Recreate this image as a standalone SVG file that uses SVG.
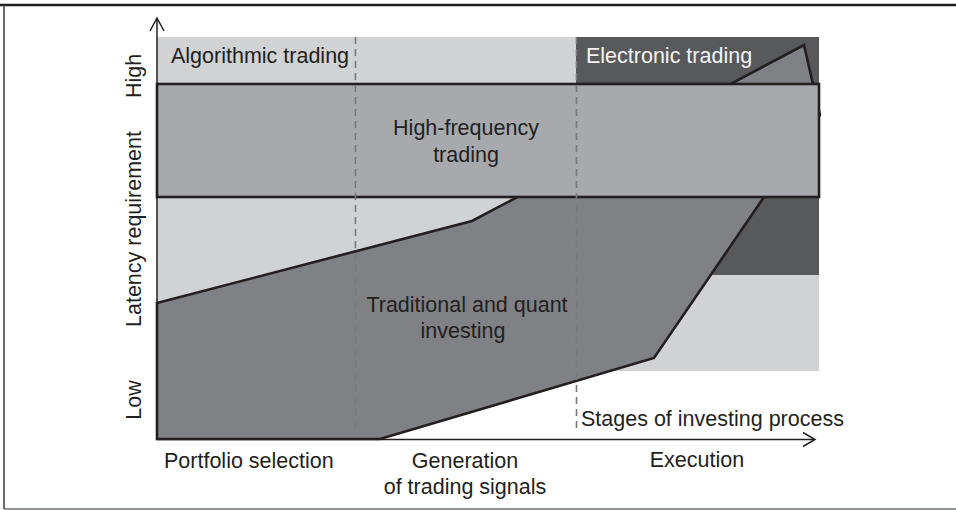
<svg xmlns="http://www.w3.org/2000/svg" width="956" height="510" viewBox="0 0 956 510">
<style>
text{font-family:"Liberation Sans",Arial,sans-serif;font-size:21.5px;fill:#231f20}
.edge{stroke:#231f20;stroke-width:2.6;stroke-linejoin:miter}
.dash{stroke:#77787b;stroke-width:1.6;stroke-dasharray:7 5;fill:none}
.axis{stroke:#231f20;stroke-width:1.5;fill:none}
</style>
<rect x="0" y="0" width="956" height="510" fill="#ffffff"/>
<g id="frame" fill="none">
<line x1="0" y1="5" x2="956" y2="5" stroke="#231f20" stroke-width="2.5"/>
<line x1="4" y1="5" x2="4" y2="509" stroke="#3a3a3a" stroke-width="1.5"/>
<line x1="4" y1="509" x2="956" y2="509" stroke="#6d6e71" stroke-width="1.5"/>
</g>
<g id="algorithmic-trading">
<rect x="157" y="37" width="662" height="334" fill="#d1d2d4"/>
<text x="171" y="63">Algorithmic trading</text>
</g>
<g id="electronic-trading">
<rect x="576" y="37" width="243" height="238" fill="#58595b"/>
<text x="586" y="63" style="fill:#f4f4f4">Electronic trading</text>
</g>
<g id="traditional-quant">
<polygon class="edge" fill="#808184" points="157,303 472,221 804,45 820,115 764,197 654,358 380,439 157,439"/>
</g>
<g id="high-frequency-trading">
<rect class="edge" x="157" y="84" width="662" height="113" fill="#a7a9ac"/>
</g>
<g id="stage-dividers">
<line class="dash" x1="355.5" y1="37" x2="355.5" y2="428"/>
<line class="dash" x1="576.5" y1="37" x2="576.5" y2="428"/>
</g>
<g id="connectors">
<line class="axis" x1="157" y1="19" x2="157" y2="439"/>
<polyline class="axis" points="150,31 157,18 164,31"/>
<line class="axis" x1="157" y1="439.5" x2="814" y2="439.5"/>
<polyline class="axis" points="803,432.5 815,439.5 803,446.5"/>
</g>
<g id="labels">
<text x="466" y="135" text-anchor="middle">High-frequency</text>
<text x="466" y="162" text-anchor="middle">trading</text>
<text x="467" y="312" text-anchor="middle">Traditional and quant</text>
<text x="463" y="338" text-anchor="middle">investing</text>
<text x="581" y="426">Stages of investing process</text>
<text x="164" y="468">Portfolio selection</text>
<text x="465" y="468" text-anchor="middle">Generation</text>
<text x="465" y="494" text-anchor="middle">of trading signals</text>
<text x="697" y="467" text-anchor="middle">Execution</text>
<text transform="translate(141,76) rotate(-90)" text-anchor="middle">High</text>
<text transform="translate(141,229) rotate(-90)" text-anchor="middle">Latency requirement</text>
<text transform="translate(141,400) rotate(-90)" text-anchor="middle">Low</text>
</g>
</svg>
